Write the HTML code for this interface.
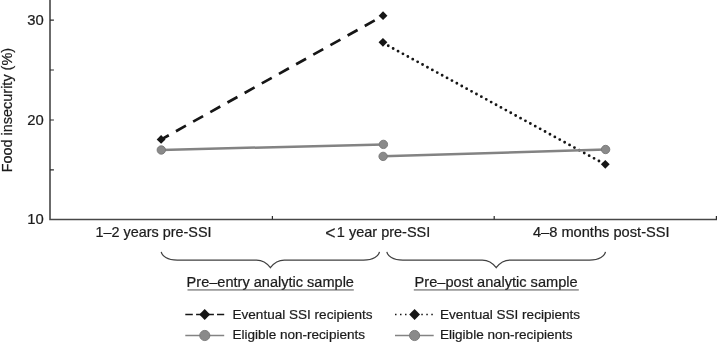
<!DOCTYPE html>
<html>
<head>
<meta charset="utf-8">
<title>Food insecurity chart</title>
<style>
html,body{margin:0;padding:0;background:#fff;}
svg{display:block;}
text{font-family:"Liberation Sans",Arial,Helvetica,sans-serif;fill:#1c1c1c;stroke:#1c1c1c;stroke-width:0.22;}
.ax{stroke:#474747;stroke-width:1.6;fill:none;}
.tk{stroke:#2c2c2c;stroke-width:1.2;fill:none;}
.g{stroke:#838383;stroke-width:2.5;fill:none;}
.gc{fill:#8a8a8a;stroke:#767676;stroke-width:0.9;}
.k{stroke:#161616;stroke-width:2.7;fill:none;}
.kd{fill:#161616;}
.br{stroke:#404040;stroke-width:1.2;fill:none;}
.ul{stroke:#505050;stroke-width:1;fill:none;}
</style>
</head>
<body>
<svg width="717" height="343" viewBox="0 0 717 343">
<rect width="717" height="343" fill="#fff"/>
<!-- axes -->
<path class="ax" d="M50 0V219.55H717"/>
<path class="tk" d="M50 20.1h3.9M50 70h3.9M50 120h3.9M50 169.8h3.9"/>
<path class="tk" d="M272.4 219.5v-3.5M494.2 219.5v-3.5M716.4 219.5v-3.5"/>
<!-- y labels -->
<text x="43.8" y="25" font-size="14.8" text-anchor="end">30</text>
<text x="43.8" y="124.7" font-size="14.8" text-anchor="end">20</text>
<text x="43.8" y="223.9" font-size="14.8" text-anchor="end">10</text>
<text transform="translate(12.0 172.3) rotate(-90)" font-size="14.45">Food insecurity (%)</text>
<!-- x labels -->
<text x="95.5" y="236.8" font-size="14.4">1–2 years pre-SSI</text>
<text x="325.2" y="239" font-size="17.5">&lt;</text>
<text x="336.8" y="236.8" font-size="14.5">1 year pre-SSI</text>
<text x="532.9" y="236.8" font-size="14.65">4–8 months post-SSI</text>
<!-- black lines -->
<path class="k" d="M161 139.6L383 15.8" stroke-dasharray="11.4 8.25" stroke-dashoffset="2.5"/>
<path class="k" d="M383 42.9L605.7 164.7" stroke-dasharray="0 5.585" stroke-dashoffset="-0.4" stroke-linecap="round" style="stroke-width:2.85"/>
<!-- gray lines -->
<path class="g" d="M161.3 150L383.4 144.4"/>
<path class="g" d="M383.1 156.2L605.6 149.5"/>
<!-- markers -->
<circle class="gc" cx="161.3" cy="150" r="4.2"/>
<circle class="gc" cx="383.4" cy="144.4" r="4.2"/>
<circle class="gc" cx="383.1" cy="156.4" r="4.2"/>
<circle class="gc" cx="605.6" cy="149.5" r="4.2"/>
<path class="kd" d="M161.1 135l4.4 4.4l-4.4 4.4l-4.4-4.4z"/>
<path class="kd" d="M383.05 11.3l4.4 4.4l-4.4 4.4l-4.4-4.4z"/>
<path class="kd" d="M382.95 37.9l4.4 4.4l-4.4 4.4l-4.4-4.4z"/>
<path class="kd" d="M605.3 159.9l4.4 4.4l-4.4 4.4l-4.4-4.4z"/>
<!-- braces -->
<path class="br" d="M161.2 251.9C162.0 255.9 167.2 260.1 177.2 260.1H256.5C261.4 260.1 267.0 263.10 270.4 267.7C273.8 263.10 279.4 260.1 284.3 260.1H363.5C373.5 260.1 378.7 255.9 379.5 251.9"/>
<path class="br" d="M386.8 251.9C387.6 255.9 392.8 260.1 402.8 260.1H482.3C487.2 260.1 492.8 263.10 496.2 267.7C499.6 263.10 505.2 260.1 510.1 260.1H589.5C599.5 260.1 604.7 255.9 605.5 251.9"/>
<!-- sample labels -->
<text x="186.6" y="287" font-size="14.55">Pre–entry analytic sample</text>
<path class="ul" d="M187.5 289.95H353.8"/>
<text x="414.6" y="287" font-size="14.6">Pre–post analytic sample</text>
<path class="ul" d="M413.8 289.95H578.8"/>
<!-- legend -->
<path class="k" d="M185.3 314.5H224.2" stroke-dasharray="7.5 3.3 17.8 3.1 7.2" style="stroke-width:1.7"/>
<path class="kd" d="M204.7 309l5.4 5.5l-5.4 5.5l-5.4-5.5z"/>
<text x="232.5" y="318.6" font-size="13.55">Eventual SSI recipients</text>
<path class="g" d="M185.3 335.5H224.2" style="stroke-width:1.5"/>
<circle class="gc" cx="204.8" cy="335.5" r="5.1"/>
<text x="232.5" y="338.7" font-size="13.55">Eligible non-recipients</text>
<path class="k" d="M395 314.5H408" stroke-dasharray="1.5 3.5" style="stroke-width:1.6"/>
<path class="k" d="M421.3 314.5H434" stroke-dasharray="1.5 3.5" style="stroke-width:1.6"/>
<path class="kd" d="M414.6 309l5.4 5.5l-5.4 5.5l-5.4-5.5z"/>
<text x="440" y="318.6" font-size="13.55">Eventual SSI recipients</text>
<path class="g" d="M395 335.5H433.7" style="stroke-width:1.5"/>
<circle class="gc" cx="414.6" cy="335.5" r="5.1"/>
<text x="440" y="338.7" font-size="13.55">Eligible non-recipients</text>
</svg>
</body>
</html>
